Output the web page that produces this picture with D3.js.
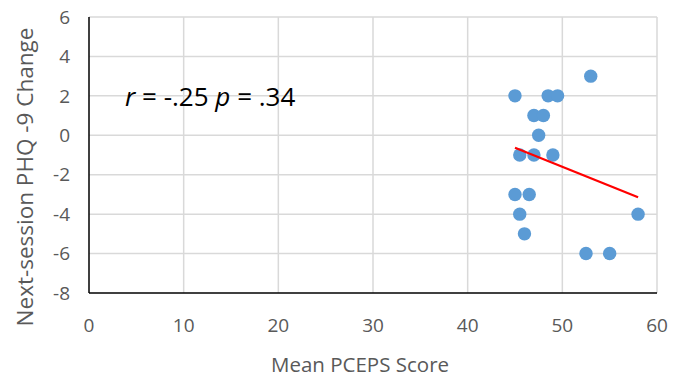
<!DOCTYPE html>
<html lang="en">
<head>
<meta charset="UTF-8">
<title>PCEPS vs PHQ-9</title>
<script src="https://cdn.jsdelivr.net/npm/d3@7.9.0/dist/d3.min.js"></script>
<style>
    body { margin: 0; background: #fff; }
    svg text { font-family: "Open Sans", "Noto Sans", sans-serif; }
</style>
</head>
<body>
<svg id="chart" width="675" height="380"></svg>
<script>
// scores
const pcepsScore = [53, 45, 48.5, 49.5, 47, 48, 47.5, 45.5, 47, 49, 45, 46.5, 45.5, 58, 46, 52.5, 55];
const phqChange  = [3, 2, 2, 2, 1, 1, 0, -1, -1, -1, -3, -3, -4, -4, -5, -6, -6];
const xTicks = [0, 10, 20, 30, 40, 50, 60];
const yTicks = [-8, -6, -4, -2, 0, 2, 4, 6];

const svg = d3.select('#chart');
const x = d3.scaleLinear().domain([0, 60]).range([89, 657]);
const y = d3.scaleLinear().domain([-8, 6]).range([293, 17]);

// gridlines
svg.append('g').selectAll('line').data(xTicks.slice(1)).join('line')
    .attr('x1', d => x(d)).attr('x2', d => x(d))
    .attr('y1', y(6)).attr('y2', y(-8))
    .attr('stroke', '#d9d9d9').attr('stroke-width', 1.5);
svg.append('g').selectAll('line').data(yTicks.slice(1)).join('line')
    .attr('x1', x(0)).attr('x2', x(60))
    .attr('y1', d => y(d)).attr('y2', d => y(d))
    .attr('stroke', '#d9d9d9').attr('stroke-width', 1.5);

// axes lines
svg.append('line').attr('x1', x(0)).attr('x2', x(60)).attr('y1', y(-8)).attr('y2', y(-8))
    .attr('stroke', '#000').attr('stroke-width', 1.5);
svg.append('line').attr('x1', x(0)).attr('x2', x(0)).attr('y1', y(6)).attr('y2', y(-8))
    .attr('stroke', '#000').attr('stroke-width', 1.5);

// tick labels
svg.append('g').selectAll('text').data(xTicks).join('text')
    .attr('x', d => x(d)).attr('y', 332)
    .attr('text-anchor', 'middle').attr('font-size', 19).attr('fill', '#595959')
    .text(d => d);
svg.append('g').selectAll('text').data(yTicks).join('text')
    .attr('x', 70).attr('y', d => y(d)).attr('dy', '0.35em')
    .attr('text-anchor', 'end').attr('font-size', 19).attr('fill', '#595959')
    .text(d => d);

// axis titles
svg.append('text').attr('x', 360).attr('y', 372)
    .attr('text-anchor', 'middle').attr('font-size', 20.5).attr('fill', '#595959')
    .text('Mean PCEPS Score');
svg.append('text').attr('transform', 'translate(33,177) rotate(-90)')
    .attr('text-anchor', 'middle').attr('font-size', 22.5).attr('fill', '#595959')
    .text('Next-session PHQ -9 Change');

// points
svg.append('g').selectAll('circle').data(pcepsScore).join('circle')
    .attr('cx', d => x(d)).attr('cy', (d, i) => y(phqChange[i]))
    .attr('r', 6.7).attr('fill', '#5b9bd5');

// linear trendline (least squares)
const mx = d3.mean(pcepsScore), my = d3.mean(phqChange);
const slope = d3.sum(pcepsScore, (d, i) => (d - mx) * (phqChange[i] - my)) /
              d3.sum(pcepsScore, d => (d - mx) ** 2);
const [x0, x1] = d3.extent(pcepsScore);
svg.append('line')
    .attr('x1', x(x0)).attr('y1', y(my + slope * (x0 - mx)))
    .attr('x2', x(x1)).attr('y2', y(my + slope * (x1 - mx)))
    .attr('stroke', '#ff0000').attr('stroke-width', 2.2);

// annotation
const note = svg.append('text').attr('x', 125).attr('y', 106)
    .attr('font-size', 26).attr('fill', '#000');
note.append('tspan').attr('font-style', 'italic').text('r');
note.append('tspan').text(' = -.25 ');
note.append('tspan').attr('font-style', 'italic').text('p');
note.append('tspan').text(' = .34');
</script>
</body>
</html>
